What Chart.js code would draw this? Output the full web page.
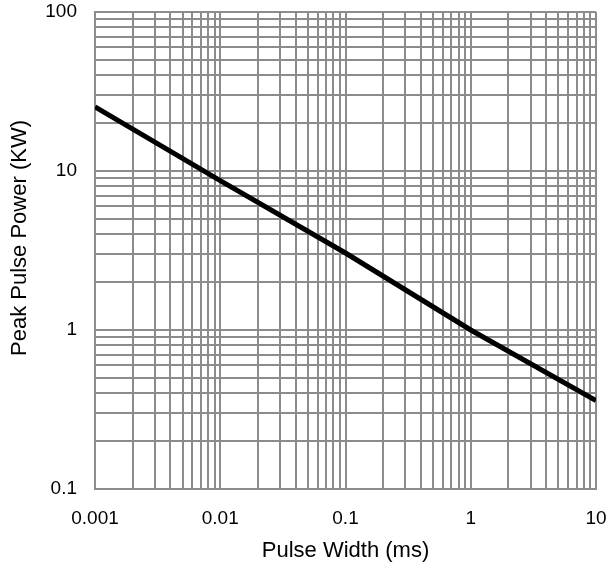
<!DOCTYPE html>
<html>
<head>
<meta charset="utf-8">
<script src="https://cdn.jsdelivr.net/npm/chart.js@4/dist/chart.umd.min.js"></script>
<style>
  html, body { margin: 0; padding: 0; background: #ffffff; }
  #wrap { width: 608px; height: 566px; position: relative; }
</style>
</head>
<body>
<div id="wrap"><canvas id="c" width="608" height="566"></canvas></div>
<script>
// Data
const pulseWidthMs = [0.001, 0.01, 0.1, 1, 10];
const peakPowerKW  = [25.3, 8.7, 3.05, 1.0, 0.36];
const xTickLabels  = ['0.001', '0.01', '0.1', '1', '10'];
const yTickLabels  = ['0.1', '1', '10', '100'];
const xTitle = 'Pulse Width (ms)';
const yTitle = 'Peak Pulse Power (KW)';

function decadeTicks(labels) {
  const vals = labels.map(Number);
  const out = [];
  for (let i = 0; i < vals.length - 1; i++) {
    for (let m = 1; m <= 9; m++) out.push({ value: vals[i] * m });
  }
  out.push({ value: vals[vals.length - 1] });
  return out;
}
function labelFor(labels, v) {
  for (const s of labels) {
    if (Math.abs(Number(s) - v) / Number(s) < 1e-6) return s;
  }
  return '';
}

const fam = '"Liberation Sans", Arial, sans-serif';
const font = { family: fam, size: 19 };
const titleFont = { family: fam, size: 22 };
const gridColor = '#8c8c8c';

// Y axis title drawn as canvas text, centred like the reference (over the full chart height)
const yTitlePlugin = {
  id: 'yTitle',
  afterDraw(chart) {
    const ctx = chart.ctx;
    ctx.save();
    ctx.font = `${titleFont.size}px ${fam}`;
    ctx.fillStyle = '#000';
    ctx.textAlign = 'center';
    ctx.textBaseline = 'middle';
    ctx.translate(20, 238);
    ctx.rotate(-Math.PI / 2);
    ctx.fillText(yTitle, 0, 0);
    ctx.restore();
  }
};

new Chart(document.getElementById('c'), {
  type: 'line',
  data: {
    datasets: [{
      data: pulseWidthMs.map((x, i) => ({ x: x, y: peakPowerKW[i] })),
      borderColor: '#000000',
      borderWidth: 5,
      pointRadius: 0,
      tension: 0,
      fill: false
    }]
  },
  plugins: [yTitlePlugin],
  options: {
    responsive: false,
    animation: false,
    devicePixelRatio: 1,
    layout: { padding: { top: 12, right: 12, bottom: 0, left: 0 } },
    plugins: { legend: { display: false }, tooltip: { enabled: false } },
    scales: {
      x: {
        type: 'logarithmic',
        min: Number(xTickLabels[0]),
        max: Number(xTickLabels[xTickLabels.length - 1]),
        afterBuildTicks: (axis) => { axis.ticks = decadeTicks(xTickLabels); },
        afterFit: (s) => { s.height = 77; s.paddingLeft = 0; s.paddingRight = 0; },
        ticks: {
          autoSkip: false, maxRotation: 0, color: '#000', font: font, padding: 18,
          callback: (v) => labelFor(xTickLabels, v)
        },
        grid: { color: gridColor, lineWidth: 2, drawTicks: false },
        border: { color: gridColor, width: 2 },
        title: { display: true, text: xTitle, color: '#000', font: titleFont, padding: { top: 0, bottom: 2 } }
      },
      y: {
        type: 'logarithmic',
        min: Number(yTickLabels[0]),
        max: Number(yTickLabels[yTickLabels.length - 1]),
        afterBuildTicks: (axis) => { axis.ticks = decadeTicks(yTickLabels); },
        afterFit: (s) => { s.width = 95; s.paddingTop = 0; s.paddingBottom = 0; },
        ticks: {
          autoSkip: false, color: '#000', font: font, padding: 18,
          callback: (v) => labelFor(yTickLabels, v)
        },
        grid: { color: gridColor, lineWidth: 2, drawTicks: false },
        border: { color: gridColor, width: 2 },
        title: { display: false }
      }
    }
  }
});
</script>
</body>
</html>
